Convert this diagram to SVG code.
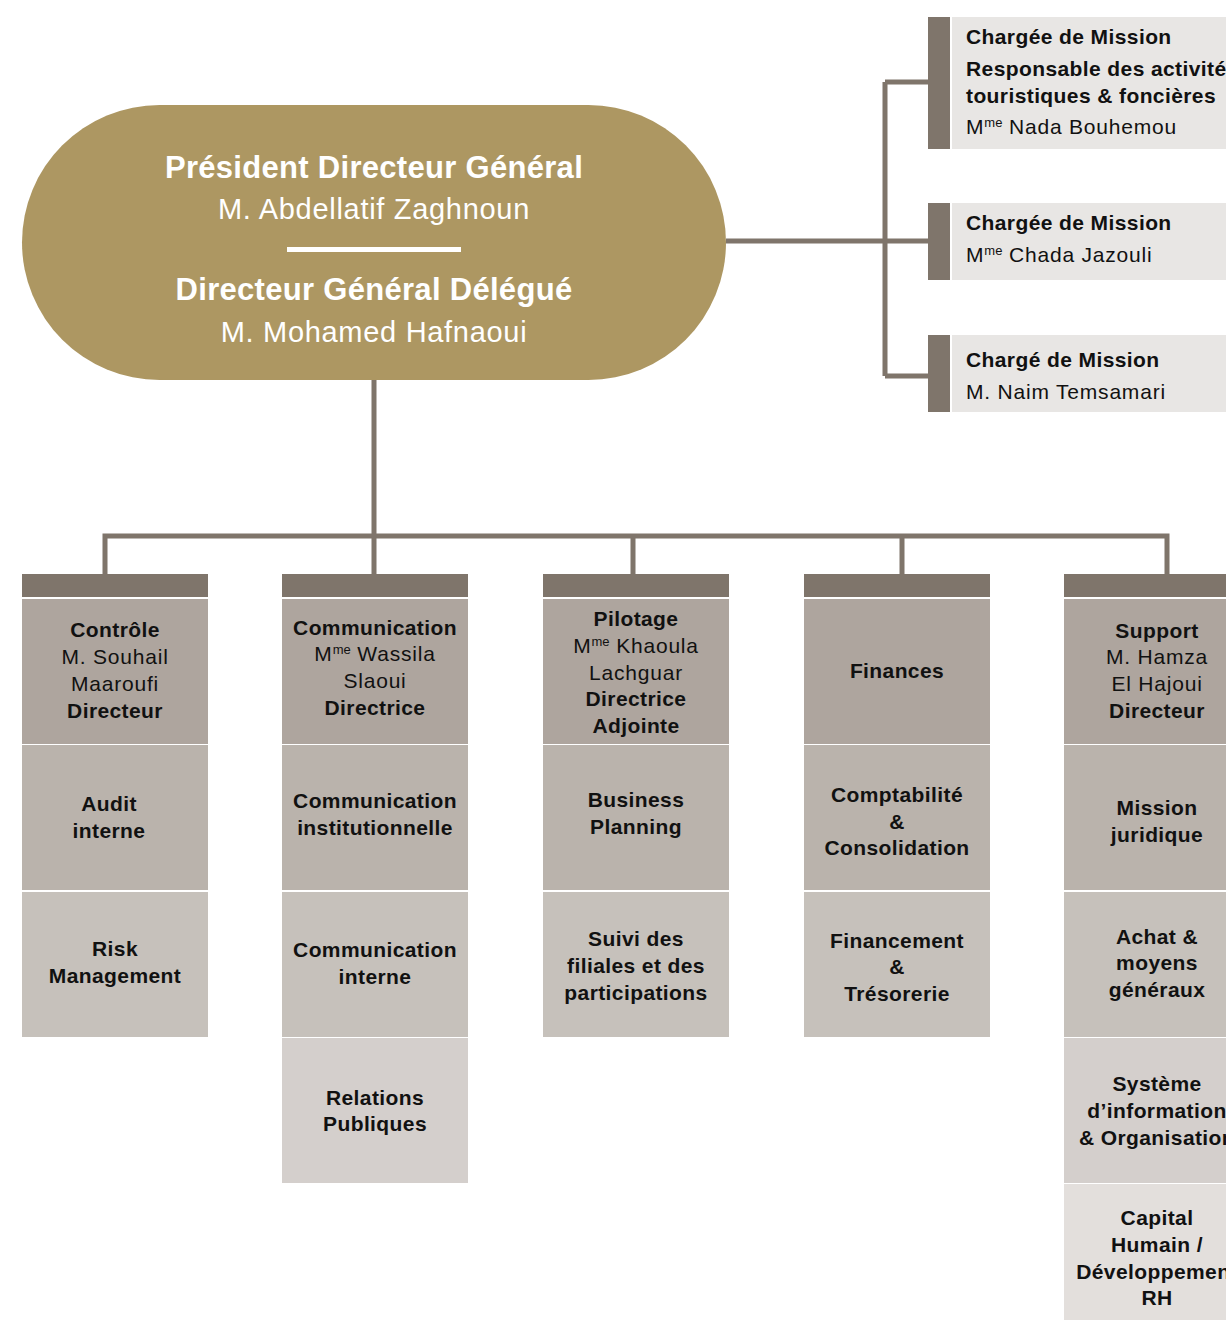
<svg xmlns="http://www.w3.org/2000/svg" width="1226" height="1320" viewBox="0 0 1226 1320">
<style>
.conn{fill:none;stroke:#7f756b;stroke-width:5}
.hdr{fill:#7f756b}
.c1{fill:#aea59e}.c2{fill:#bab3ac}.c3{fill:#c6c1bb}.c4{fill:#d4cfcc}.c5{fill:#e3dfdc}
.side{fill:#e8e6e4}
text{font-family:"Liberation Sans",Arial,sans-serif;fill:#111}
.t{font-size:21px;text-anchor:middle;letter-spacing:0.8px}
.s{font-size:21px;letter-spacing:0.8px}
.b{font-weight:bold;letter-spacing:0.4px}
.w{fill:#fff;text-anchor:middle}
.n{font-size:29px;letter-spacing:0.7px}
.h{font-size:31px;letter-spacing:0.3px}
.sup{font-size:13px;letter-spacing:0}
</style>
<rect width="1226" height="1320" fill="#fff"/>
<g id="connectors">
<path class="conn" d="M374 380V536M105 574V536H1167V574M374 536V574M633 536V574M902 536V574"/>
<path class="conn" d="M726 241H928M885 82V376M885 82H928M885 376H928"/>
</g>
<g id="pdg">
<rect x="22" y="105" width="704" height="275" rx="137.5" fill="#ad9762"/>
<text class="w b h" x="374" y="178">Président Directeur Général</text>
<text class="w n" x="374" y="219">M. Abdellatif Zaghnoun</text>
<rect x="287" y="247" width="174" height="5" fill="#fff"/>
<text class="w b h" x="374" y="300">Directeur Général Délégué</text>
<text class="w n" x="374" y="342">M. Mohamed Hafnaoui</text>
</g>
<g id="cm1">
<rect class="hdr" x="928" y="17" width="22" height="132"/>
<rect class="side" x="952" y="17" width="274" height="132"/>
<text class="s b" x="966" y="44">Chargée de Mission</text>
<text class="s b" x="966" y="76">Responsable des activités</text>
<text class="s b" x="966" y="103">touristiques &amp; foncières</text>
<text class="s" x="966" y="134">M<tspan class="sup" dy="-7">me</tspan><tspan dy="7"> Nada Bouhemou</tspan></text>
</g>
<g id="cm2">
<rect class="hdr" x="928" y="203" width="22" height="77"/>
<rect class="side" x="952" y="203" width="274" height="77"/>
<text class="s b" x="966" y="230">Chargée de Mission</text>
<text class="s" x="966" y="262">M<tspan class="sup" dy="-7">me</tspan><tspan dy="7"> Chada Jazouli</tspan></text>
</g>
<g id="cm3">
<rect class="hdr" x="928" y="335" width="22" height="77"/>
<rect class="side" x="952" y="335" width="274" height="77"/>
<text class="s b" x="966" y="367">Chargé de Mission</text>
<text class="s" x="966" y="399">M. Naim Temsamari</text>
</g>
<g id="controle">
<rect class="hdr" x="22" y="574" width="186" height="23"/>
<rect class="c1" x="22" y="599" width="186" height="145"/>
<rect class="c2" x="22" y="745" width="186" height="145"/>
<rect class="c3" x="22" y="892" width="186" height="145"/>
<text class="t b" x="115" y="637">Contrôle</text>
<text class="t" x="115" y="664">M. Souhail</text>
<text class="t" x="115" y="691">Maaroufi</text>
<text class="t b" x="115" y="718">Directeur</text>
<text class="t b" x="109" y="811">Audit</text>
<text class="t b" x="109" y="838">interne</text>
<text class="t b" x="115" y="956">Risk</text>
<text class="t b" x="115" y="983">Management</text>
</g>
<g id="communication">
<rect class="hdr" x="282" y="574" width="186" height="23"/>
<rect class="c1" x="282" y="599" width="186" height="145"/>
<rect class="c2" x="282" y="745" width="186" height="145"/>
<rect class="c3" x="282" y="892" width="186" height="145"/>
<rect class="c4" x="282" y="1038" width="186" height="145"/>
<text class="t b" x="375" y="635">Communication</text>
<text class="t" x="375" y="661">M<tspan class="sup" dy="-7">me</tspan><tspan dy="7"> Wassila</tspan></text>
<text class="t" x="375" y="688">Slaoui</text>
<text class="t b" x="375" y="715">Directrice</text>
<text class="t b" x="375" y="808">Communication</text>
<text class="t b" x="375" y="835">institutionnelle</text>
<text class="t b" x="375" y="957">Communication</text>
<text class="t b" x="375" y="984">interne</text>
<text class="t b" x="375" y="1105">Relations</text>
<text class="t b" x="375" y="1131">Publiques</text>
</g>
<g id="pilotage">
<rect class="hdr" x="543" y="574" width="186" height="23"/>
<rect class="c1" x="543" y="599" width="186" height="145"/>
<rect class="c2" x="543" y="745" width="186" height="145"/>
<rect class="c3" x="543" y="892" width="186" height="145"/>
<text class="t b" x="636" y="626">Pilotage</text>
<text class="t" x="636" y="653">M<tspan class="sup" dy="-7">me</tspan><tspan dy="7"> Khaoula</tspan></text>
<text class="t" x="636" y="680">Lachguar</text>
<text class="t b" x="636" y="706">Directrice</text>
<text class="t b" x="636" y="733">Adjointe</text>
<text class="t b" x="636" y="807">Business</text>
<text class="t b" x="636" y="834">Planning</text>
<text class="t b" x="636" y="946">Suivi des</text>
<text class="t b" x="636" y="973">filiales et des</text>
<text class="t b" x="636" y="1000">participations</text>
</g>
<g id="finances">
<rect class="hdr" x="804" y="574" width="186" height="23"/>
<rect class="c1" x="804" y="599" width="186" height="145"/>
<rect class="c2" x="804" y="745" width="186" height="145"/>
<rect class="c3" x="804" y="892" width="186" height="145"/>
<text class="t b" x="897" y="678">Finances</text>
<text class="t b" x="897" y="802">Comptabilité</text>
<text class="t b" x="897" y="829">&amp;</text>
<text class="t b" x="897" y="855">Consolidation</text>
<text class="t b" x="897" y="948">Financement</text>
<text class="t b" x="897" y="974">&amp;</text>
<text class="t b" x="897" y="1001">Trésorerie</text>
</g>
<g id="support">
<rect class="hdr" x="1064" y="574" width="186" height="23"/>
<rect class="c1" x="1064" y="599" width="186" height="145"/>
<rect class="c2" x="1064" y="745" width="186" height="145"/>
<rect class="c3" x="1064" y="892" width="186" height="145"/>
<rect class="c4" x="1064" y="1038" width="186" height="145"/>
<rect class="c5" x="1064" y="1184" width="186" height="136"/>
<text class="t b" x="1157" y="638">Support</text>
<text class="t" x="1157" y="664">M. Hamza</text>
<text class="t" x="1157" y="691">El Hajoui</text>
<text class="t b" x="1157" y="718">Directeur</text>
<text class="t b" x="1157" y="815">Mission</text>
<text class="t b" x="1157" y="842">juridique</text>
<text class="t b" x="1157" y="944">Achat &amp;</text>
<text class="t b" x="1157" y="970">moyens</text>
<text class="t b" x="1157" y="997">généraux</text>
<text class="t b" x="1157" y="1091">Système</text>
<text class="t b" x="1157" y="1118">d’information</text>
<text class="t b" x="1157" y="1145">&amp; Organisation</text>
<text class="t b" x="1157" y="1225">Capital</text>
<text class="t b" x="1157" y="1252">Humain /</text>
<text class="t b" x="1157" y="1279">Développement</text>
<text class="t b" x="1157" y="1305">RH</text>
</g>
</svg>
